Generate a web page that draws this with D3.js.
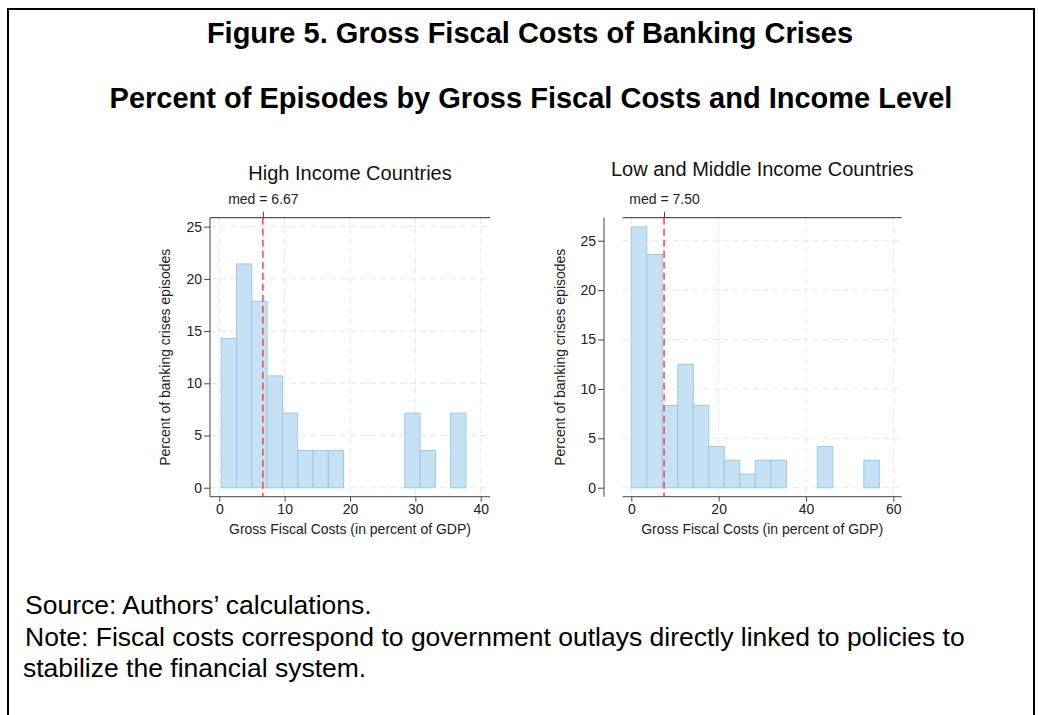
<!DOCTYPE html>
<html>
<head>
<meta charset="utf-8">
<script src="https://cdn.jsdelivr.net/npm/d3@7"></script>
<style>
  body { margin: 0; background: #fff; }
  svg { display: block; font-family: "Liberation Sans", Arial, sans-serif; }
</style>
</head>
<body>
<svg id="fig" width="1038" height="715"></svg>
<script>
// Histogram bin edges (percent of GDP) and share of episodes in each bin (%)
const hiEdges = [0.30, 2.64, 4.98, 7.32, 9.66, 12.00, 14.34, 16.68, 19.02, 21.36, 23.70, 26.04, 28.38, 30.72, 33.06, 35.40, 37.74];
const hiPct   = [14.29, 21.43, 17.86, 10.71, 7.14, 3.57, 3.57, 3.57, 0, 0, 0, 0, 7.14, 3.57, 0, 7.14];

const loEdges = [0, 3.55, 7.10, 10.65, 14.20, 17.75, 21.30, 24.85, 28.40, 31.95, 35.50, 39.05, 42.60, 46.15, 49.70, 53.25, 56.80];
const loPct   = [26.39, 23.61, 8.33, 12.50, 8.33, 4.17, 2.78, 1.39, 2.78, 2.78, 0, 0, 4.17, 0, 0, 2.78];

const medians = [6.67, 7.50];
const panelTitles = ["High Income Countries", "Low and Middle Income Countries"];
const hiXTicks = [0, 10, 20, 30, 40];
const loXTicks = [0, 20, 40, 60];
const yTicks = [0, 5, 10, 15, 20, 25];

const figTitle = "Figure 5. Gross Fiscal Costs of Banking Crises";
const figSubtitle = "Percent of Episodes by Gross Fiscal Costs and Income Level";
const xTitle = "Gross Fiscal Costs (in percent of GDP)";
const yTitle = "Percent of banking crises episodes";
const notes = [
  "Source: Authors\u2019 calculations.",
  "Note: Fiscal costs correspond to government outlays directly linked to policies to",
  "stabilize the financial system."
];

const svg = d3.select("#fig");

// outer frame (open at the bottom)
svg.append("path")
  .attr("d", "M8,715 V9 H1034 V715")
  .attr("fill", "none").attr("stroke", "#000").attr("stroke-width", 2);

svg.append("text").attr("x", 530).attr("y", 43).attr("text-anchor", "middle")
  .attr("font-size", 29).attr("font-weight", "bold").attr("fill", "#000").text(figTitle);
svg.append("text").attr("x", 531).attr("y", 108).attr("text-anchor", "middle")
  .attr("font-size", 29).attr("font-weight", "bold").attr("fill", "#000").text(figSubtitle);

const noteY = [614, 646, 677];
notes.forEach((t, i) => {
  svg.append("text").attr("x", i === 2 ? 23 : 25).attr("y", noteY[i])
    .attr("font-size", 26.5).attr("fill", "#000").text(t);
});

const panels = [
  { edges: hiEdges, pct: hiPct, med: medians[0], title: panelTitles[0], xTicks: hiXTicks,
    xRange: [210, 490], xDomain: [-1.42, 41.42], yDomain: [-0.86, 25.86], yAxisX: 210,
    titleY: 180, yTitleX: 165 },
  { edges: loEdges, pct: loPct, med: medians[1], title: panelTitles[1], xTicks: loXTicks,
    xRange: [622.7, 901.7], xDomain: [-1.97, 61.92], yDomain: [-0.91, 27.33], yAxisX: 604,
    titleY: 176, yTitleX: 560 }
];

const plotTop = 217.7, plotBottom = 496.7;
const fontStack = "Liberation Sans, Arial, sans-serif";
const smallFont = 14;

panels.forEach(p => {
  const x = d3.scaleLinear().domain(p.xDomain).range(p.xRange);
  const y = d3.scaleLinear().domain(p.yDomain).range([plotBottom, plotTop]);
  const g = svg.append("g");
  const cx = (p.xRange[0] + p.xRange[1]) / 2;

  // grid
  g.selectAll(".gv").data(p.xTicks).join("line")
    .attr("x1", d => x(d)).attr("x2", d => x(d)).attr("y1", plotTop).attr("y2", plotBottom)
    .attr("stroke", "#e6e6e6").attr("stroke-width", 1).attr("stroke-dasharray", "6,4");
  g.selectAll(".gh").data(yTicks).join("line")
    .attr("x1", p.xRange[0]).attr("x2", p.xRange[1]).attr("y1", d => y(d)).attr("y2", d => y(d))
    .attr("stroke", "#e6e6e6").attr("stroke-width", 1).attr("stroke-dasharray", "6,4");

  // bars
  const bins = p.pct.map((v, i) => ({ x0: p.edges[i], x1: p.edges[i + 1], v })).filter(b => b.v > 0);
  g.selectAll("rect.bar").data(bins).join("rect").attr("class", "bar")
    .attr("x", d => x(d.x0)).attr("width", d => x(d.x1) - x(d.x0))
    .attr("y", d => y(d.v)).attr("height", d => y(0) - y(d.v))
    .attr("fill", "#c6e0f4").attr("stroke", "#9ccaec").attr("stroke-width", 1);

  // median line
  g.append("line").attr("x1", x(p.med)).attr("x2", x(p.med)).attr("y1", plotTop).attr("y2", plotBottom)
    .attr("stroke", "#ff4040").attr("stroke-width", 1.5).attr("stroke-dasharray", "7,4");

  // bottom axis
  const xa = g.append("g").attr("transform", `translate(0,${plotBottom})`)
    .call(d3.axisBottom(x).tickValues(p.xTicks).tickSize(5).tickPadding(2).tickFormat(d3.format("d")));
  xa.select(".domain").attr("d", `M${p.xRange[0]},0H${p.xRange[1]}`).attr("stroke", "#444");
  xa.selectAll(".tick line").attr("stroke", "#444");
  xa.selectAll("text").attr("font-size", smallFont).attr("fill", "#222").attr("font-family", fontStack);

  // top axis carrying the median marker
  const ta = g.append("g").attr("transform", `translate(0,${plotTop})`)
    .call(d3.axisTop(x).tickValues([p.med]).tickSize(6).tickPadding(8).tickFormat(d => "med = " + d3.format(".2f")(d)));
  ta.select(".domain").attr("d", `M${p.xRange[0]},0H${p.xRange[1]}`).attr("stroke", "#555").attr("stroke-width", 1.3);
  ta.selectAll(".tick line").attr("stroke", "#444");
  ta.selectAll("text").attr("font-size", smallFont).attr("fill", "#222").attr("font-family", fontStack);

  // left axis
  const ya = g.append("g").attr("transform", `translate(${p.yAxisX},0)`)
    .call(d3.axisLeft(y).tickValues(yTicks).tickSize(6).tickPadding(2));
  ya.select(".domain").attr("d", `M0,${plotTop}V${plotBottom}`).attr("stroke", "#444");
  ya.selectAll(".tick line").attr("stroke", "#444");
  ya.selectAll("text").attr("font-size", smallFont).attr("fill", "#222").attr("font-family", fontStack);

  // titles
  g.append("text").attr("x", cx).attr("y", p.titleY).attr("text-anchor", "middle")
    .attr("font-size", 20).attr("fill", "#111").text(p.title);
  g.append("text").attr("x", cx).attr("y", 534).attr("text-anchor", "middle")
    .attr("font-size", smallFont).attr("fill", "#222").text(xTitle);
  g.append("text").attr("transform", `translate(${p.yTitleX},${(plotTop + plotBottom) / 2}) rotate(-90)`)
    .attr("text-anchor", "middle").attr("dy", "0.35em")
    .attr("font-size", smallFont).attr("fill", "#222").text(yTitle);
});
</script>
</body>
</html>
